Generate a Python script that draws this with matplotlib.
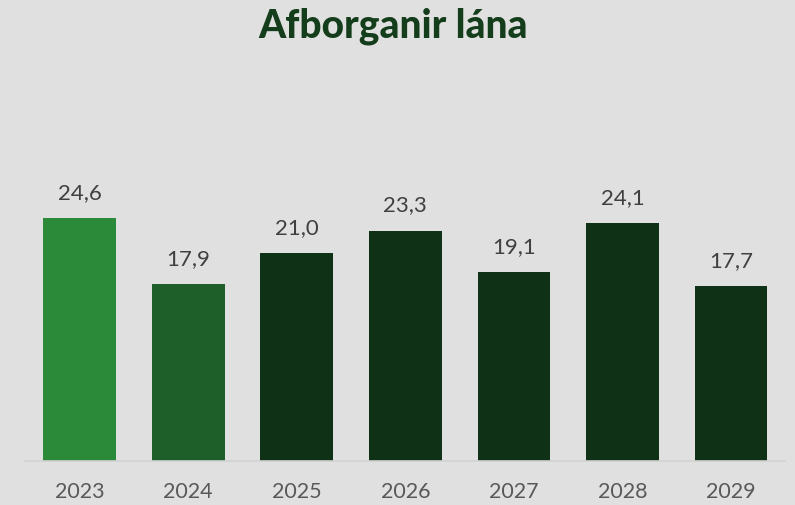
import matplotlib
matplotlib.use("Agg")
import matplotlib.pyplot as plt

years = ["2023", "2024", "2025", "2026", "2027", "2028", "2029"]
values = [24.6, 17.9, 21.0, 23.3, 19.1, 24.1, 17.7]
labels = ["24,6", "17,9", "21,0", "23,3", "19,1", "24,1", "17,7"]
colors = ["#2b8a3a", "#1e5e29", "#0f3216", "#0f3216", "#0f3216", "#0f3216", "#0f3216"]

W, H = 795, 505
fig = plt.figure(figsize=(W / 100, H / 100), dpi=100)
bg = "#e0e0e0"
fig.patch.set_facecolor(bg)

left_px, right_px, base_px, top_px = 25.3, 785.3, 461, 100
ax = fig.add_axes([left_px / W, (H - base_px) / H, (right_px - left_px) / W, (base_px - top_px) / H])
ax.set_facecolor(bg)

x = range(len(years))
ax.bar(x, values, width=0.67, color=colors)
ax.set_xlim(-0.5, len(years) - 0.5)
ax.set_ylim(0, (base_px - top_px) / 9.89)

for i, (v, lab) in enumerate(zip(values, labels)):
    ax.annotate(lab, (i, v), xytext=(0, 25), textcoords="offset pixels",
                ha="center", va="center", fontsize=16, color="#404040", family="Lato")

for s in ["left", "right", "top"]:
    ax.spines[s].set_visible(False)
ax.spines["bottom"].set_color("#d2d2d2")
ax.spines["bottom"].set_linewidth(1.2)
ax.set_yticks([])
ax.set_xticks(list(x))
ax.set_xticklabels(years, fontsize=15.5, color="#595959", family="Lato")
ax.tick_params(axis="x", length=0, pad=15)

fig.text(393 / W, 1 - 26 / H, "Afborganir lána", ha="center", va="center",
         fontsize=28, fontweight="black", color="#143d1b", family="Lato")

fig.savefig("out.png", dpi=100, facecolor=bg)
